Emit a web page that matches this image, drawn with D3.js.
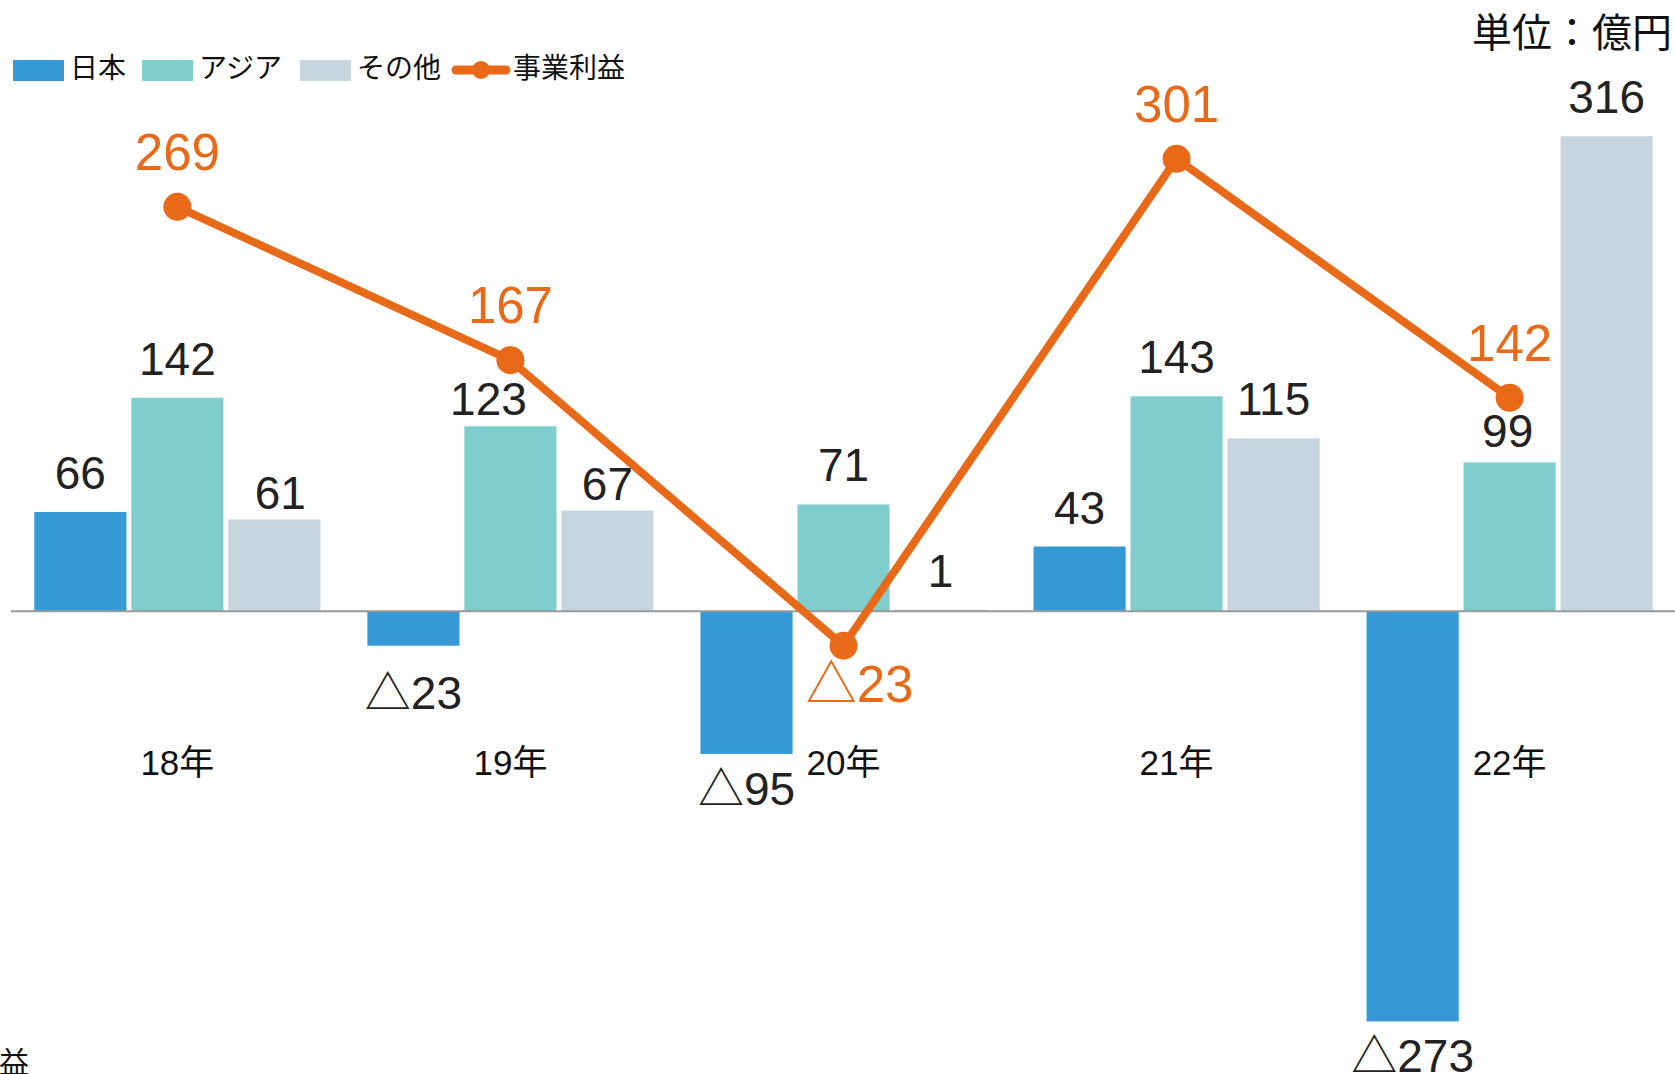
<!DOCTYPE html>
<html>
<head>
<meta charset="utf-8">
<script src="https://cdn.jsdelivr.net/npm/d3@7"></script>
<style>
  body { margin: 0; background: #fff; }
  svg { display: block; }
  text { font-family: "Liberation Sans", Arial, "Noto Sans CJK JP", sans-serif; }
  .cjk { font-family: "Noto Sans CJK JP", sans-serif; }
</style>
</head>
<body>
<svg width="1675" height="1074"></svg>
<script>
// Data (億円)
const years = ["18年", "19年", "20年", "21年", "22年"];
const seriesNames = ["日本", "アジア", "その他"];
const japan = [66, -23, -95, 43, -273];
const asia = [142, 123, 71, 143, 99];
const other = [61, 67, 1, 115, 316];
const profit = [269, 167, -23, 301, 142];
const lineName = "事業利益";

const colors = ["#3499d5", "#7fcdcd", "#c6d6df"];
const orange = "#e86a18";

// labels the original moved aside to dodge the line
const labelNudge = {
    "その他|18年": [6, 13],
    "アジア|19年": [-22, 12],
    "その他|19年": [0, 13],
    "日本|19年": [0, 12],
    "アジア|22年": [-2, 8]
};

const width = 1675, height = 1074;
const svg = d3.select("svg");

// Scales
const x0 = d3.scaleBand()
    .domain(years)
    .range([11, 1676])
    .paddingInner(0.141)
    .paddingOuter(0.07);

const x1 = d3.scaleBand()
    .domain(seriesNames)
    .range([0, x0.bandwidth()])
    .paddingInner(0.05);

const y = d3.scaleLinear()
    .domain([-300, 400])
    .range([1062, 10]);

const fmt = v => v < 0 ? "△" + Math.abs(v) : String(v);

// Build rows for bars
const series = [japan, asia, other];
const rows = [];
years.forEach((yr, i) => {
    seriesNames.forEach((s, j) => {
        rows.push({ year: yr, name: s, value: series[j][i], color: colors[j] });
    });
});
const nudge = d => labelNudge[d.name + "|" + d.year] || [0, 0];

// Bars
svg.append("g").selectAll("rect")
    .data(rows)
    .enter()
    .append("rect")
    .attr("x", d => x0(d.year) + x1(d.name))
    .attr("y", d => d.value >= 0 ? y(d.value) : y(0))
    .attr("width", x1.bandwidth())
    .attr("height", d => Math.max(1, Math.abs(y(d.value) - y(0))))
    .attr("fill", d => d.color);

// Zero line
svg.append("line")
    .attr("x1", 11).attr("x2", width)
    .attr("y1", y(0)).attr("y2", y(0))
    .attr("stroke", "#9a9a9a")
    .attr("stroke-width", 2);

// Bar labels
svg.append("g").selectAll("text")
    .data(rows)
    .enter()
    .append("text")
    .attr("x", d => x0(d.year) + x1(d.name) + x1.bandwidth() / 2 + nudge(d)[0])
    .attr("y", d => (d.value >= 0 ? y(d.value) - 23 : y(d.value) + 51) + nudge(d)[1])
    .attr("text-anchor", "middle")
    .attr("font-size", 46)
    .attr("fill", "#222")
    .text(d => fmt(d.value));

// X labels
svg.append("g").selectAll("text")
    .data(years)
    .enter()
    .append("text")
    .attr("x", d => x0(d) + x0.bandwidth() / 2)
    .attr("y", 775)
    .attr("text-anchor", "middle")
    .attr("font-size", 35)
    .attr("fill", "#111")
    .text(d => d);

// Profit line
const pts = years.map((yr, i) => ({ year: yr, value: profit[i] }));
const cx = d => x0(d.year) + x0.bandwidth() / 2;

svg.append("path")
    .datum(pts)
    .attr("fill", "none")
    .attr("stroke", orange)
    .attr("stroke-width", 8)
    .attr("stroke-linejoin", "round")
    .attr("d", d3.line().x(cx).y(d => y(d.value)));

svg.append("g").selectAll("circle")
    .data(pts)
    .enter()
    .append("circle")
    .attr("cx", cx)
    .attr("cy", d => y(d.value))
    .attr("r", 14)
    .attr("fill", orange);

svg.append("g").selectAll("text")
    .data(pts)
    .enter()
    .append("text")
    .attr("x", d => cx(d) + (d.value < 0 ? 16 : 0))
    .attr("y", d => d.value >= 0 ? y(d.value) - 37 : y(d.value) + 56)
    .attr("text-anchor", "middle")
    .attr("font-size", 51)
    .attr("fill", orange)
    .text(d => fmt(d.value));

// Legend
const legend = svg.append("g").attr("class", "cjk");
const legendItems = [
    { name: "日本", x: 13 },
    { name: "アジア", x: 142 },
    { name: "その他", x: 300 }
];
legendItems.forEach((it, i) => {
    legend.append("rect")
        .attr("x", it.x).attr("y", 60)
        .attr("width", 51).attr("height", 21)
        .attr("fill", colors[i]);
    legend.append("text")
        .attr("x", it.x + 57).attr("y", 78)
        .attr("font-size", 28)
        .attr("fill", "#111")
        .text(it.name);
});
legend.append("line")
    .attr("x1", 456).attr("x2", 506)
    .attr("y1", 70).attr("y2", 70)
    .attr("stroke", orange)
    .attr("stroke-width", 9)
    .attr("stroke-linecap", "round");
legend.append("circle")
    .attr("cx", 481).attr("cy", 70).attr("r", 9)
    .attr("fill", orange);
legend.append("text")
    .attr("x", 513).attr("y", 78)
    .attr("font-size", 28)
    .attr("fill", "#111")
    .text(lineName);

// Unit label
svg.append("text")
    .attr("class", "cjk")
    .attr("x", 1672).attr("y", 47)
    .attr("text-anchor", "end")
    .attr("font-size", 40)
    .attr("fill", "#111")
    .text("単位：億円");

// Clipped axis title remnant at bottom left
svg.append("text")
    .attr("class", "cjk")
    .attr("x", -1).attr("y", 1073)
    .attr("font-size", 30)
    .attr("fill", "#111")
    .text("益");
</script>
</body>
</html>
